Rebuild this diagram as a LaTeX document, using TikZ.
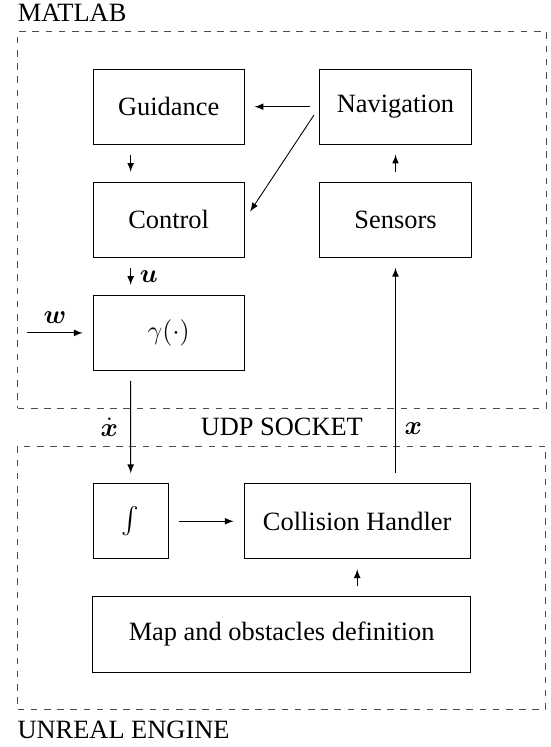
\documentclass[tikz,border=0pt,12pt]{standalone}
\usepackage{amsmath}
\usepackage{fontspec}
\setmainfont{Liberation Serif}
\usepackage{tikz}
\usetikzlibrary{arrows, arrows.meta, positioning, calc, fit}

\begin{document}
\begin{tikzpicture}[
    node distance=16.8pt and 34pt,
    box/.style={draw, minimum width=68.7pt, minimum height=34.2pt, align=center},
    frame/.style={draw=black!70, dashed, inner xsep=34pt, inner ysep=16.9pt},
    arrow/.style={->, >=latex, shorten >=4.5pt, shorten <=4.5pt}
]
    \node[box] (guid) {Guidance};
    \node[box, right=of guid] (nav) {Navigation};
    \node[box, below=of guid] (ctrl) {Control};
    \node[box, below=of nav] (sens) {Sensors};
    \node[box, below=of ctrl] (gam) {$\gamma(\cdot)$};
    \node[box, minimum width=34.2pt, below=51pt of gam.south west, anchor=north west] (integ) {$\int$};
    \node[box, minimum width=102.9pt, right=of integ] (coll) {Collision Handler};
    \node[box, minimum width=171.6pt, below=of coll.south east, anchor=north east] (map) {Map and obstacles definition};

    % MATLAB and UNREAL ENGINE frames
    \node[frame, fit=(guid)(nav)(gam)] (mat) {};
    \node[frame, fit=(integ)(coll)(map)] (unr) {};
    \node[inner sep=0pt, above=4.1pt of mat.north west, anchor=south west] (matlab) {MATLAB};
    \node[inner sep=0pt, below=4.6pt of unr.south west, anchor=north west] (unreal) {UNREAL ENGINE};
    \node (udp) at ($(mat.south)!0.5!(unr.north)$) {UDP SOCKET};

    \draw[arrow] (nav) -- (guid);
    \draw[arrow] (nav.west) -- (ctrl.east);
    \draw[arrow] (sens) -- (nav);
    \draw[arrow] ($(guid.south west)!0.25!(guid.south east)$) -- ($(ctrl.north west)!0.25!(ctrl.north east)$);
    \draw[arrow] ($(ctrl.south west)!0.25!(ctrl.south east)$) -- ($(gam.north west)!0.25!(gam.north east)$)
        node[midway, right] {$\boldsymbol{u}$};
    \coordinate (win) at (mat.west |- gam);
    \draw[arrow] (win) -- (gam.west) node[midway, above] {$\boldsymbol{w}$};
    \draw[arrow] ($(gam.south west)!0.25!(gam.south east)$) -- (integ.north)
        node[midway, left, xshift=-1.5pt] {$\dot{\boldsymbol{x}}$};
    \draw[arrow] (integ) -- (coll);
    \draw[arrow] (map.north -| coll) -- (coll.south);
    \draw[arrow] (coll.north -| sens) -- (sens.south) node[pos=0.24, right] {$\boldsymbol{x}$};

    \useasboundingbox ($(guid.north west)+(-42.1pt,31.2pt)$) rectangle ($(guid.north west)+(208.3pt,-308.3pt)$);
\end{tikzpicture}
\end{document}
